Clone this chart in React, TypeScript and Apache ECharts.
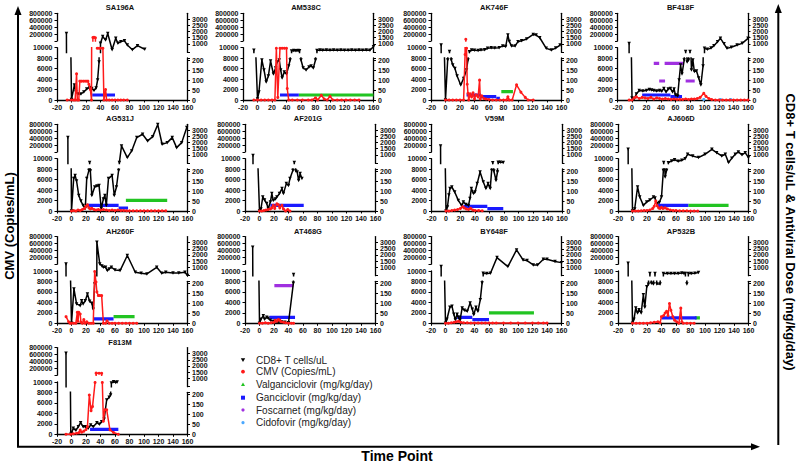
import React, { useEffect, useRef } from "react";
import * as echarts from "echarts";

// ---------------- tick labels ----------------
const X_TICKS = [-20, 0, 20, 40, 60, 80, 100, 120, 140, 160];
const CMV_LOWER_TICKS = [0, 2000, 4000, 6000, 8000, 10000];
const CMV_UPPER_TICKS = [200000, 400000, 600000, 800000];
const CD8_LOWER_TICKS = [0, 50, 100, 150, 200];
const CD8_UPPER_TICKS = [500, 1000, 1500, 2000, 2500, 3000, 3500];

const LEGEND_LABELS = [
  "CD8+ T cells/uL",
  "CMV (Copies/mL)",
  "Valganciclovir (mg/kg/day)",
  "Ganciclovir (mg/kg/day)",
  "Foscarnet (mg/kg/day)",
  "Cidofovir (mg/kg/day)",
];

// ---------------- data: [day, value]; drug segments: [startDay, endDay, dose] ----------------
const SA196A_CD8 = [[-7,1850],[0,2],[4,75],[6,40],[9,30],[13,30],[17,40],[21,55],[25,63],[28,57],[31,48],[34,60],[36,100],[38,190],[40,1050],[43,1600],[47,1320],[50,1850],[56,520],[61,1450],[64,1050],[68,1180],[73,1260],[77,900],[84,520],[91,850],[101,560]];
const SA196A_CMV = [[-6,0],[0,0],[3,0],[5,0],[7,5000],[8,0],[10,0],[11.5,3600],[14,3600],[17,3600],[20,3600],[22.6,3600],[24,3000],[26,2000],[27.6,0],[29.5,110000],[31,115000],[33,100000],[35.5,9900],[38,9900],[40,9900],[43.3,9900],[44.7,0],[47,2000],[48.4,0],[52,0],[56,0],[60,0],[64,0],[68,0],[72,0],[77,0]];
const SA196A_GAN = [[28.6,60,25]];

const AM538C_CD8 = [[-5,480],[0,5],[2,40],[6,200],[9,150],[12,90],[15,120],[18,195],[22,130],[25,160],[27,190],[30,200],[32,150],[34,110],[37,140],[40,130],[43,170],[45,200],[47,420],[50,460],[53,430],[56,460],[58,440],[60,200],[63,160],[67,150],[71,165],[74,170],[77,160],[80,200],[82,460],[86,490],[90,470],[95,500],[100,475],[105,495],[110,480],[115,505],[120,470],[125,480],[130,490],[135,475],[140,490],[145,480],[150,500],[155,485],[160,760]];
const AM538C_CMV = [[-5,0],[0,0],[5,0],[10,0],[15,0],[20,0],[24,0],[26,9900],[28,500],[31,9900],[34,9900],[37,9900],[40,9900],[41,2200],[43,0],[48,0],[55,0],[62,0],[70,0],[75,0],[80,400],[83,0],[88,900],[92,200],[96,0],[100,700],[104,0],[110,0],[116,0],[122,0],[128,0],[134,0],[140,0]];
const AM538C_GAN = [[31,57,25]];
const AM538C_VAL = [[57,160,25]];

const AK746F_CD8 = [[-6,900],[0,0],[3,200],[5.5,380],[8,200],[10,175],[13,158],[16,120],[21,75],[25,108],[29,150],[31,200],[33,360],[36,500],[40,470],[45,450],[49,500],[54,520],[58,630],[63,680],[68,650],[74,690],[79,830],[83,780],[86,1720],[88,1200],[91,830],[96,830],[100,1180],[105,1250],[112,1400],[121,1770],[125,1720],[130,1500],[139,630],[146,500],[152,650],[158,900]];
const AK746F_CMV = [[0,0],[5,0],[10,0],[15,0],[20,0],[25,0],[27,8700],[28,61000],[29,9900],[30,3000],[31,1300],[32,0],[34,1200],[36,600],[38,1400],[40,200],[42,1000],[45,600],[47,3800],[48,200],[50,800],[53,300],[56,200],[60,100],[65,0],[70,0],[75,0],[80,0],[84,0],[86,600],[88,0],[92,0],[98,2900],[104,1500],[110,500],[114,0],[121,0]];
const AK746F_GAN = [[29,49,25],[49,70,17],[70,75,8]];
const AK746F_VAL = [[77,93,42]];

const BF418F_CD8 = [[-4,1030],[0,10],[3,5],[6,30],[10,47],[15,45],[20,48],[24,53],[27,50],[30,47],[34,45],[38,48],[41,44],[44,58],[47,40],[50,55],[53,58],[56,40],[58,55],[60,25],[63,20],[65,100],[67,175],[69,130],[72,200],[74,380],[76,190],[78,200],[80,380],[82,150],[84,200],[86,142],[89,145],[92,110],[95,75],[98,170],[100,630],[104,550],[109,650],[113,850],[118,1180],[122,1450],[127,1000],[131,630],[137,720],[145,900],[152,1040],[160,1450]];
const BF418F_CMV = [[-4,0],[0,0],[3,400],[6,600],[10,300],[14,500],[18,400],[22,300],[26,500],[30,200],[34,400],[38,300],[42,200],[46,300],[50,200],[54,100],[58,200],[62,100],[66,100],[70,100],[74,200],[78,100],[82,200],[86,200],[90,300],[94,500],[99,1300],[102,700],[106,300],[110,100],[115,0],[120,0],[125,0],[130,0],[135,0],[140,0],[145,0],[150,0],[155,0],[160,0]];
const BF418F_GAN = [[14,53,25],[53,69,17]];
const BF418F_FOS = [[30,37.5,183],[45,71,183],[37.5,45.6,95],[74,86.5,95]];
const BF418F_CID = [[99,3],[122,3],[136,3]];

const AG531J_CD8 = [[-5,2411],[0,0],[3,162],[5,178],[7,150],[10,78],[13,50],[16,28],[19,12],[21,162],[24,203],[25,380],[26,200],[28,78],[32,120],[35,125],[38,128],[41,12],[44,60],[46,78],[48,28],[51,162],[56,178],[59,78],[62,120],[65,203],[66,364],[69,1730],[77,773],[83,1320],[90,2411],[98,2684],[105,2138],[112,2490],[119,3480],[125,1865],[132,2000],[139,2411],[145,1590],[152,2000],[159,3230]];
const AG531J_CMV = [[0,0],[3,100],[6,0],[9,200],[12,100],[15,300],[18,500],[20,900],[22,1200],[24,600],[26,400],[28,500],[31,300],[34,200],[37,300],[40,200],[44,300],[48,200],[52,100],[56,200],[60,100],[64,200],[68,100],[72,100],[76,50],[80,50],[85,50],[90,50],[95,50],[100,50],[105,50],[110,50],[115,50],[120,50],[125,50],[130,50]];
const AG531J_GAN = [[21,65,28],[65,78,15]];
const AG531J_VAL = [[75,132,53]];

const AF201G_CD8 = [[-9,950],[0,0],[2,10],[4.5,70],[7,55],[10,37],[12,12],[15,45],[17,87],[19,53],[22,60],[24,70],[27.5,87],[31,112],[33,87],[37,137],[40,128],[42,162],[46,203],[48,380],[50,200],[52,195],[54,153],[56,187],[58.5,162]];
const AF201G_CMV = [[0,0],[3,0],[6,100],[9,200],[12,300],[15,400],[17,600],[19,1080],[21,500],[24,1400],[26,1200],[28,600],[31,1080],[33,400],[36,0],[39,300],[42,0]];
const AF201G_GAN = [[15,61,28]];

const V59M_CD8 = [[-7.5,1730],[0,0],[2,20],[4,80],[5.5,112],[8,120],[12,95],[17,53],[21.5,28],[24,45],[27.5,33],[31,28],[33,62],[35,112],[38,87],[40,95],[43,137],[47,195],[51.5,145],[55,112],[58,137],[61,112],[63,203],[64.5,360],[66,200],[69,153],[71,195],[72,400],[75,390],[79,380]];
const V59M_CMV = [[0,0],[4,0],[8,100],[12,200],[16,300],[20,500],[23,800],[25,600],[28,400],[31,300],[34,500],[37,200],[40,100],[45,100],[50,50]];
const V59M_GAN = [[24,57,23],[57,79,12]];

const AJ606D_CD8 = [[-6,1455],[0,0],[3,10],[7,120],[10,70],[15,28],[19.6,45],[24,55],[29,70],[31,65],[33.5,37],[37,42],[40,70],[42.6,203],[43,380],[45,170],[47,203],[49.5,360],[54,500],[58,600],[63,480],[68,550],[72.6,690],[76,1046],[83,900],[91,773],[100,1046],[109.5,1455],[116,1180],[123,910],[128,1046],[132.5,364],[137,730],[141.7,1046],[146,1237],[151,1000],[155.5,1180],[160,773]];
const AJ606D_CMV = [[0,0],[4,0],[8,0],[12,50],[16,100],[20,100],[24,200],[28,500],[30,900],[32,1900],[34,1000],[36,600],[38,500],[40,700],[42,500],[45,600],[48,400],[52,200],[56,100],[60,100],[65,50],[70,50],[75,50],[80,0],[85,0],[90,0]];
const AJ606D_GAN = [[33.5,77,28]];
const AJ606D_VAL = [[77,132.5,28]];

const AH260F_CD8 = [[-7.6,1264],[0,0],[3.4,172],[7,97],[12,88],[14,113],[16,97],[19,113],[22,147],[25,110],[28,100],[30,70],[32,197],[35,3040],[39,1264],[42,1100],[44,990],[47,1000],[49.4,720],[52,850],[55,990],[60,770],[67,720],[77,1950],[88,580],[96,500],[104,445],[117.5,990],[124.5,500],[130,580],[140,520],[148,520],[156.5,580],[160,310]];
const AH260F_CMV = [[-7.5,1270],[-4,300],[-2,0],[0,0],[3,0],[6,0],[8,2100],[9,400],[10,2100],[12,1780],[13,200],[15,0],[17,700],[19,0],[21,300],[24,0],[27,0],[30,0],[32,9900],[33.8,7900],[35,6000],[37,5300],[39,5300],[41.6,5300],[44,0],[47,0],[49,500],[52,0],[56,0],[60,0],[65,0],[70,0],[75,0],[80,0],[85,0],[90,0]];
const AH260F_GAN = [[30,58,22]];
const AH260F_VAL = [[58,87,33]];

const AT468G_CD8 = [[-9.4,2630],[0,0],[2,20],[5.3,38],[7,20],[10,30],[12,25],[15,15],[20,10],[25,5],[30,8],[35,5],[40,3],[46.7,200],[47,400]];
const AT468G_CMV = [[0,0],[4,0],[8,100],[12,0],[16,100],[20,200],[22,600],[24,400],[26,700],[28,600],[30,300],[33,200],[36,100],[40,0],[44,0],[47,0]];
const AT468G_GAN = [[13.6,49,30]];
const AT468G_FOS = [[20.5,46.7,188]];

const BY648F_CD8 = [[-6,1046],[0,0],[2,20],[6,80],[9,85],[11.5,45],[13.6,18],[16,45],[18,30],[20,15],[23,77],[26,65],[30,60],[34,102],[37,70],[39,43],[42,80],[44.7,60],[48,118],[50.5,202],[52,500],[57,480],[62,500],[71,1780],[86,1046],[98,2410],[107,1590],[112.5,1540],[121,1180],[127,1180],[135,1640],[140,1640],[151,1455],[160,1370]];
const BY648F_CMV = [[0,0],[4,0],[8,100],[12,200],[15,300],[18,400],[21,200],[25,100],[30,100],[35,50],[40,50],[45,50],[50,50],[55,50],[60,50],[65,50],[70,50],[80,50],[90,50],[100,50],[110,50],[120,50],[128,50],[135,50],[140,50]];
const BY648F_GAN = [[16,37,30],[37,60,18]];
const BY648F_VAL = [[60,122,52]];

const AP532B_CD8 = [[-6,1320],[0,0],[2,20],[4.5,77],[7,52],[9,68],[12,52],[15,143],[17,80],[19.7,183],[22,195],[24,480],[26,200],[29,197],[31,470],[33.5,197],[38,197],[42.6,480],[48,490],[53,470],[58,490],[63,480],[68,530],[71,470],[73,480],[75,197],[77,470],[81,480],[86,500],[91,560]];
const AP532B_CMV = [[0,0],[5,0],[10,0],[15,0],[20,0],[25,100],[30,200],[35,300],[38,100],[40,1270],[43,1500],[45,1970],[47,2300],[49,1500],[51,3800],[53,2500],[55.6,1270],[58,600],[61,300],[64,0],[66.6,2900],[68,300],[70,0],[75,0],[80,0],[85,0]];
const AP532B_GAN = [[40,88.5,27]];
const AP532B_VAL = [[86,93,27]];

const F813M_CD8 = [[-7.6,3030],[-1,0],[0,5],[2.5,30],[6,20],[9.4,38],[12.6,58],[16,38],[19.5,38],[23,30],[26.5,47],[30,38],[35,58],[38.5,50],[41.6,63],[45,75],[48.5,172],[52,185],[54,197],[55,600],[58,700],[61,650],[63,680]];
const F813M_CMV = [[-7.6,0],[-1,0],[2.5,100],[7,200],[10,300],[12,800],[14,400],[17,600],[20,900],[22,1460],[24.6,7500],[27,4500],[29,5300],[32.5,9900],[34,71000],[38,68000],[41.6,65000],[42.5,9900],[44,2500],[46,4700],[48.5,4700],[53,850],[58,330],[64.6,0]];
const F813M_GAN = [[25.6,64.6,25]];

const PANELS = [
  { name: "SA196A", cd8: SA196A_CD8, cmv: SA196A_CMV, gan: SA196A_GAN },
  { name: "AM538C", cd8: AM538C_CD8, cmv: AM538C_CMV, gan: AM538C_GAN, val: AM538C_VAL },
  { name: "AK746F", cd8: AK746F_CD8, cmv: AK746F_CMV, gan: AK746F_GAN, val: AK746F_VAL },
  { name: "BF418F", cd8: BF418F_CD8, cmv: BF418F_CMV, gan: BF418F_GAN, fos: BF418F_FOS, cid: BF418F_CID },
  { name: "AG531J", cd8: AG531J_CD8, cmv: AG531J_CMV, gan: AG531J_GAN, val: AG531J_VAL },
  { name: "AF201G", cd8: AF201G_CD8, cmv: AF201G_CMV, gan: AF201G_GAN },
  { name: "V59M", cd8: V59M_CD8, cmv: V59M_CMV, gan: V59M_GAN },
  { name: "AJ606D", cd8: AJ606D_CD8, cmv: AJ606D_CMV, gan: AJ606D_GAN, val: AJ606D_VAL },
  { name: "AH260F", cd8: AH260F_CD8, cmv: AH260F_CMV, gan: AH260F_GAN, val: AH260F_VAL },
  { name: "AT468G", cd8: AT468G_CD8, cmv: AT468G_CMV, gan: AT468G_GAN, fos: AT468G_FOS },
  { name: "BY648F", cd8: BY648F_CD8, cmv: BY648F_CMV, gan: BY648F_GAN, val: BY648F_VAL },
  { name: "AP532B", cd8: AP532B_CD8, cmv: AP532B_CMV, gan: AP532B_GAN, val: AP532B_VAL },
  { name: "F813M", cd8: F813M_CD8, cmv: F813M_CMV, gan: F813M_GAN },
];

// ---------------- layout ----------------
const ROW_ZERO = [100, 211, 323.3, 434.3];
const COL_LEFT = [
  [57, 243, 431, 617.5],
  [57, 245, 431.5, 618],
  [57, 245, 431, 618],
  [57],
];
const PLOT_W = 130.5;
const PANEL_H = 86.7;

const COLORS = {
  cd8: "#000000",
  cmv: "#ff1a1a",
  val: "#22c422",
  gan: "#1a1aff",
  fos: "#a030e0",
  cid: "#4aa8ff",
};
const FONT = "Arial, 'Liberation Sans', sans-serif";
const DOWN_TRI = "path://M0,0L10,0L5,9Z";

// broken-axis helper: in the upper segment, points that belong to the lower
// segment are pushed far below the segment so their connecting lines leave it
// almost vertically and get clipped at the break.
function forUpperSegment(data: number[][], segMin: number, segMax: number) {
  const below = segMin - (segMax - segMin) * 40;
  return data.map(([t, v]) => [t, v < segMin ? below : v]);
}

function buildOption() {
  const grid: any[] = [];
  const xAxis: any[] = [];
  const yAxis: any[] = [];
  const series: any[] = [];
  const graphic: any[] = [];

  const axisLine = { show: true, onZero: false, lineStyle: { color: "#000", width: 1.3 } };
  const labelStyle = { fontSize: 7, fontWeight: "bold", color: "#111", fontFamily: FONT };

  PANELS.forEach((p: any, i) => {
    const row = Math.floor(i / 4);
    const col = i % 4;
    const L = COL_LEFT[row][col];
    const Z = ROW_ZERO[row];
    const T = Z - PANEL_H;
    const parts = [
      { top: Z - 52.3, h: 52.3, min: 0, max: 10000, ticks: CMV_LOWER_TICKS, extra: [], pos: "left", showX: true },
      { top: T, h: PANEL_H - 59.1, min: 12000, max: 800000, ticks: CMV_UPPER_TICKS, extra: [12000], pos: "left", showX: false },
      { top: Z - 42, h: 42, min: 0, max: 210, ticks: CD8_LOWER_TICKS, extra: [210], pos: "right", showX: false },
      { top: T, h: PANEL_H - 47.6, min: 300, max: 3500, ticks: CD8_UPPER_TICKS, extra: [300], pos: "right", showX: false },
    ];
    const base = grid.length;
    parts.forEach((s) => {
      const gi = grid.length;
      grid.push({ left: L, top: s.top, width: PLOT_W, height: s.h, containLabel: false, outerBoundsMode: "none" });
      xAxis.push({
        gridIndex: gi,
        type: "value",
        min: -20,
        max: 160,
        interval: 20,
        show: s.showX,
        axisLine,
        axisTick: { show: true, length: 2.5, lineStyle: { color: "#000", width: 1 }, customValues: X_TICKS },
        axisLabel: { ...labelStyle, margin: 3.5, customValues: X_TICKS, formatter: (v: number) => String(v) },
        splitLine: { show: false },
      });
      yAxis.push({
        gridIndex: gi,
        type: "value",
        position: s.pos,
        min: s.min,
        max: s.max,
        axisLine,
        axisTick: { show: true, length: 2.5, lineStyle: { color: "#000", width: 1 }, customValues: [...s.ticks, ...s.extra] },
        axisLabel: { ...labelStyle, margin: 4.5, customValues: s.ticks, formatter: (v: number) => String(v) },
        splitLine: { show: false },
      });
    });

    const mk = (data: any[], gi: number, color: string, symbol: string, size: number, width: number, z: number) => ({
      type: "line",
      xAxisIndex: gi,
      yAxisIndex: gi,
      data,
      symbol,
      symbolSize: size,
      showSymbol: true,
      clip: true,
      silent: true,
      z,
      itemStyle: { color },
      lineStyle: { color, width },
    });

    const drug = (segs: any[] | undefined, color: string) => {
      (segs || []).forEach((sg: number[]) => {
        series.push({
          ...mk([[sg[0], sg[2]], [sg[1], sg[2]]], base + 2, color, "none", 0, 3.2, 2),
          showSymbol: false,
        });
      });
    };
    drug(p.val, COLORS.val);
    drug(p.gan, COLORS.gan);
    drug(p.fos, COLORS.fos);
    if (p.cid) {
      series.push({ ...mk(p.cid, base + 2, COLORS.cid, "circle", 3, 0, 2), lineStyle: { width: 0, opacity: 0 } });
    }
    series.push(mk(p.cd8, base + 2, COLORS.cd8, DOWN_TRI, 3.5, 1.5, 3));
    series.push(mk(forUpperSegment(p.cd8, 300, 3500), base + 3, COLORS.cd8, DOWN_TRI, 3.5, 1.5, 3));
    series.push(mk(p.cmv, base + 0, COLORS.cmv, "circle", 3, 1.5, 4));
    series.push(mk(forUpperSegment(p.cmv, 12000, 800000), base + 1, COLORS.cmv, "circle", 3, 1.5, 4));

    graphic.push({
      type: "text",
      x: L + 63,
      y: T - 5.5,
      style: {
        text: p.name,
        font: `bold 7.5px ${FONT}`,
        fill: "#111",
        align: "center",
        verticalAlign: "middle",
        textAlign: "center",
        textVerticalAlign: "middle",
      },
    });
  });

  const stroke = { stroke: "#000", lineWidth: 2 };
  graphic.push({ type: "line", shape: { x1: 18, y1: 14, x2: 18, y2: 447 }, style: stroke });
  graphic.push({ type: "polygon", shape: { points: [[14.5, 15], [21.5, 15], [18, 6]] }, style: { fill: "#000" } });
  graphic.push({ type: "line", shape: { x1: 17, y1: 446.7, x2: 752, y2: 446.7 }, style: stroke });
  graphic.push({ type: "polygon", shape: { points: [[751, 443.2], [751, 450.2], [760, 446.7]] }, style: { fill: "#000" } });
  graphic.push({ type: "line", shape: { x1: 778.3, y1: 12, x2: 778.3, y2: 445 }, style: stroke });
  graphic.push({ type: "polygon", shape: { points: [[774.8, 13], [781.8, 13], [778.3, 4]] }, style: { fill: "#000" } });

  const titleStyle = (text: string, size: number) => ({
    text,
    font: `bold ${size}px ${FONT}`,
    fill: "#000",
    align: "center",
    verticalAlign: "middle",
    textAlign: "center",
    textVerticalAlign: "middle",
  });
  graphic.push({ type: "text", x: 9, y: 226, rotation: Math.PI / 2, style: titleStyle("CMV (Copies/mL)", 13) });
  graphic.push({ type: "text", x: 790, y: 232, rotation: -Math.PI / 2, style: titleStyle("CD8+ T cells/uL & Antiviral Dose (mg/kg/day)", 13) });
  graphic.push({ type: "text", x: 397, y: 455.5, style: titleStyle("Time Point", 14) });

  const LX = 243;
  const LY = [360, 371.7, 384.3, 397.7, 410, 422.7];
  graphic.push({ type: "polygon", shape: { points: [[LX - 2.2, LY[0] - 1.8], [LX + 2.2, LY[0] - 1.8], [LX, LY[0] + 2]] }, style: { fill: COLORS.cd8 } });
  graphic.push({ type: "circle", shape: { cx: LX, cy: LY[1], r: 1.9 }, style: { fill: COLORS.cmv } });
  graphic.push({ type: "polygon", shape: { points: [[LX - 2, LY[2] + 1.8], [LX + 2, LY[2] + 1.8], [LX, LY[2] - 1.8]] }, style: { fill: COLORS.val } });
  graphic.push({ type: "rect", shape: { x: LX - 2, y: LY[3] - 2, width: 4, height: 4 }, style: { fill: COLORS.gan } });
  graphic.push({ type: "circle", shape: { cx: LX, cy: LY[4], r: 1.6 }, style: { fill: COLORS.fos } });
  graphic.push({ type: "circle", shape: { cx: LX, cy: LY[5], r: 1.6 }, style: { fill: COLORS.cid } });
  LEGEND_LABELS.forEach((t, k) => {
    graphic.push({
      type: "text",
      x: 256,
      y: LY[k],
      style: {
        text: t,
        font: `10px ${FONT}`,
        fill: "#222",
        align: "left",
        verticalAlign: "middle",
        textAlign: "left",
        textVerticalAlign: "middle",
      },
    });
  });

  return {
    animation: false,
    textStyle: { fontFamily: FONT },
    grid,
    xAxis,
    yAxis,
    series,
    graphic: { elements: graphic },
  };
}

export default function App() {
  const ref = useRef<HTMLDivElement>(null);
  useEffect(() => {
    if (!ref.current) return;
    const chart = echarts.init(ref.current, null, { renderer: "svg" });
    chart.setOption(buildOption() as any);
    return () => chart.dispose();
  }, []);
  return (
    <div
      ref={ref}
      style={{ position: "absolute", left: 0, top: 0, width: 800, height: 462, background: "#fff" }}
    />
  );
}
